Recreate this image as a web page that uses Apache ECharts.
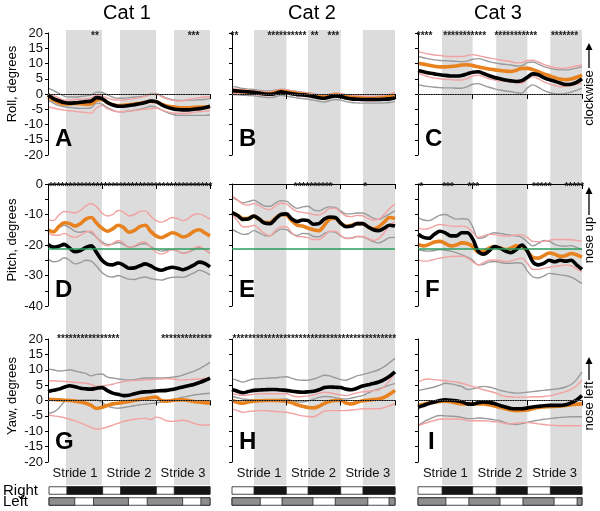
<!DOCTYPE html>
<html><head><meta charset="utf-8">
<script src="https://cdn.jsdelivr.net/npm/echarts@6/dist/echarts.min.js"></script>
<style>html,body{margin:0;padding:0;background:#fff}#c{width:600px;height:511px}</style>
</head><body><div id="c"></div>
<script>
// ---------- time axis (strides) ----------
const T = [0,0.1,0.2,0.3,0.4,0.5,0.6,0.7,0.8,0.9,1.0,1.1,1.2,1.3,1.4,1.5,1.6,1.7,1.8,1.9,2.0,2.1,2.2,2.3,2.4,2.5,2.6,2.7,2.8,2.9,3.0];
const strideLabels = ['Stride 1','Stride 2','Stride 3'];
const catTitles = ['Cat 1','Cat 2','Cat 3'];
const rowNames = ['Roll, degrees','Pitch, degrees','Yaw, degrees'];
const rowNotes = ['clockwise','nose up','nose left'];
const rowRanges = [[-20,20],[-40,0],[-20,20]];
const pitchRef = -21.2;
const zeroRef = 0;
const starLevel = [20, 0, 21];
const gaitRows = ['Left','Right'];

// stance phases (grey shading = right stance), left stance
const stanceRight1 = [[0.333,1],[1.333,2],[2.333,3]];
const stanceRight2 = [[0.405,1],[1.40,2],[2.41,3]];
const stanceRight3 = [[0.44,1],[1.43,2],[2.42,3]];
const stanceLeft1 = [[0,0.48],[0.83,1.48],[1.83,2.49],[2.83,3]];
const stanceLeft2 = [[0,0.52],[0.92,1.49],[1.90,2.50],[2.89,3]];
const stanceLeft3 = [[0,0.51],[0.93,1.50],[1.92,2.49],[2.91,3]];

// ---------- Panel A (roll, cat 1) ----------
const A_black  = [-0.3,-1.5,-2.2,-2.8,-3.0,-2.9,-2.7,-2.5,-2.3,-1.2,-1.5,-2.8,-3.6,-4.0,-4.0,-3.8,-3.5,-3.2,-2.8,-2.3,-2.5,-3.5,-4.3,-4.8,-5.1,-5.2,-5.2,-5.0,-4.8,-4.5,-4.0];
const A_orange = [-1.0,-2.0,-2.8,-3.3,-3.3,-3.1,-3.2,-3.4,-3.3,-2.0,-1.8,-2.8,-3.5,-3.8,-3.7,-3.5,-3.3,-3.0,-2.7,-2.4,-2.5,-3.3,-3.9,-4.2,-4.4,-4.5,-4.5,-4.4,-4.3,-4.3,-4.2];
const A_greyHi = [1.9,1.2,0.2,-0.7,-1.0,-1.0,-0.8,-0.6,-0.3,0.6,0.5,-0.3,-1.0,-1.4,-1.4,-1.2,-1.0,-0.9,-0.6,0.0,0.2,-0.6,-1.4,-1.9,-2.1,-2.1,-2.0,-2.0,-1.9,-1.8,-1.5];
const A_greyLo = [-2.0,-3.0,-3.8,-4.2,-4.4,-4.6,-4.7,-4.7,-4.5,-3.0,-3.3,-4.5,-5.3,-5.8,-5.8,-5.6,-5.3,-5.0,-4.6,-4.0,-4.3,-5.2,-6.0,-6.6,-7.0,-7.0,-7.0,-7.0,-7.0,-7.0,-6.8];
const A_pinkHi = [0.2,-0.5,-1.3,-2.0,-2.0,-1.8,-1.7,-1.6,-1.4,-0.5,-0.7,-1.3,-1.8,-2.0,-2.0,-1.7,-1.5,-1.2,-0.8,-0.2,0.0,-0.9,-1.6,-2.0,-2.3,-2.2,-1.8,-1.5,-1.2,-1.0,-0.9];
const A_pinkLo = [-4.2,-4.6,-5.0,-5.3,-5.5,-5.7,-5.9,-6.1,-6.3,-4.5,-3.8,-4.8,-5.5,-5.8,-5.8,-5.6,-5.4,-5.2,-5.0,-4.8,-4.6,-5.2,-5.8,-6.2,-6.4,-6.4,-6.3,-6.0,-5.8,-5.6,-5.5];
const A_stars  = [[0.82,0.92],[2.63,2.76]];

// ---------- Panel B (roll, cat 2) ----------
const B_black  = [1.1,1.0,0.8,0.7,0.6,0.3,0.0,-0.1,0.2,0.7,0.4,0.1,-0.2,-0.3,-0.5,-0.8,-1.2,-1.4,-1.0,-0.6,-0.8,-1.3,-1.6,-1.7,-1.8,-1.8,-1.8,-1.8,-1.7,-1.6,-1.3];
const B_orange = [1.0,0.9,0.8,0.7,0.5,0.3,0.1,0.1,0.5,0.9,0.7,0.4,0.1,-0.1,-0.3,-0.6,-0.9,-1.0,-0.6,-0.3,-0.5,-0.9,-1.2,-1.3,-1.4,-1.5,-1.5,-1.4,-1.2,-0.9,-0.5];
const B_greyHi = [2.5,2.2,1.8,1.6,1.5,1.2,1.0,1.0,1.3,1.6,1.4,1.1,0.8,0.6,0.4,0.1,-0.3,-0.5,-0.1,0.3,0.1,-0.3,-0.6,-0.7,-0.8,-0.8,-0.8,-0.8,-0.6,-0.3,0.5];
const B_greyLo = [-0.2,-0.3,-0.4,-0.5,-0.6,-0.8,-1.1,-1.2,-0.9,-0.4,-0.7,-1.0,-1.3,-1.5,-1.7,-2.0,-2.4,-2.6,-2.2,-1.8,-2.0,-2.5,-2.8,-2.9,-3.0,-3.0,-3.0,-3.0,-2.9,-2.8,-2.5];
const B_pinkHi = [1.8,1.6,1.4,1.3,1.1,0.9,0.7,0.7,1.1,1.5,1.3,1.0,0.7,0.5,0.3,0.0,-0.3,-0.4,0.0,0.3,0.2,-0.2,-0.5,-0.6,-0.7,-0.8,-0.8,-0.7,-0.5,-0.1,0.5];
const B_pinkLo = [0.2,0.2,0.2,0.1,-0.1,-0.3,-0.5,-0.5,-0.1,0.3,0.1,-0.2,-0.5,-0.7,-0.9,-1.2,-1.5,-1.6,-1.2,-0.9,-1.2,-1.6,-1.9,-2.0,-2.1,-2.2,-2.2,-2.1,-1.9,-1.7,-1.5];
const B_stars  = [[0.0,0.09],[0.70,1.32],[1.47,1.57],[1.78,1.95]];

// ---------- Panel C (roll, cat 3) ----------
const C_black  = [7.7,7.3,6.9,6.6,6.3,6.1,5.9,5.9,6.1,6.6,7.1,7.3,6.7,6.0,5.4,5.0,4.6,4.3,4.1,4.4,5.5,6.6,6.3,5.4,4.7,4.2,3.6,3.1,3.2,3.8,5.0];
const C_orange = [10.1,9.8,9.4,9.1,8.9,8.9,9.0,9.2,9.5,9.6,9.3,8.9,8.5,8.2,7.9,7.7,7.5,7.4,7.8,8.4,8.4,8.0,7.3,6.6,6.0,5.4,4.9,4.7,4.9,5.5,6.2];
const C_greyHi = [12.3,11.9,11.5,11.2,11.0,10.9,10.8,10.7,10.6,10.8,11.4,11.6,11.2,10.6,10.2,9.9,9.7,9.5,9.2,9.3,10.3,10.5,9.8,9.0,8.5,8.1,7.9,7.9,8.1,8.5,9.0];
const C_greyLo = [3.0,2.7,2.4,2.2,2.1,2.0,2.0,1.9,1.9,2.4,3.2,3.4,2.8,2.2,1.7,1.3,1.0,0.8,0.4,0.3,2.0,3.0,2.2,1.2,0.5,0.1,0.0,0.2,0.6,1.2,1.9];
const C_pinkHi = [14.0,13.5,13.1,12.8,12.6,12.4,12.3,12.3,12.3,12.6,12.9,12.6,12.2,11.8,11.5,11.2,10.9,10.6,10.2,10.3,11.0,11.1,10.5,9.7,9.1,8.7,8.4,8.5,8.8,9.2,9.5];
const C_pinkLo = [6.8,6.2,5.6,5.2,5.0,4.8,4.7,4.6,4.6,5.1,5.9,6.2,5.6,5.0,4.6,4.3,4.1,4.0,3.7,3.6,4.9,5.7,5.0,4.0,3.3,2.8,2.4,2.5,2.8,3.2,3.5];
const C_stars  = [[0,0.24],[0.49,1.22],[1.44,2.14],[2.45,2.91]];

// ---------- Panel D (pitch, cat 1) ----------
const D_black  = [-19.8,-20.7,-20.4,-19.8,-21.0,-22.2,-21.8,-20.8,-20.3,-22.5,-25.0,-26.3,-26.5,-25.9,-26.6,-27.6,-27.5,-26.8,-26.2,-26.8,-27.8,-28.3,-27.7,-27.3,-27.6,-28.1,-27.5,-26.6,-25.6,-26.0,-27.2];
const D_orange = [-15.0,-15.7,-14.0,-12.7,-13.0,-13.8,-13.0,-11.5,-11.0,-12.8,-14.5,-15.5,-14.7,-13.5,-14.3,-15.8,-15.2,-14.0,-13.5,-15.5,-17.0,-17.6,-16.8,-16.0,-16.5,-17.4,-16.8,-15.5,-15.0,-16.0,-17.0];
const D_greyHi = [-15.0,-15.5,-14.3,-13.5,-14.3,-15.5,-15.8,-15.5,-16.0,-17.5,-19.0,-19.8,-19.7,-19.2,-19.8,-20.7,-20.5,-19.8,-19.5,-20.5,-21.5,-22.0,-21.7,-21.5,-22.0,-22.7,-22.3,-21.5,-20.8,-21.5,-22.7];
const D_greyLo = [-24.4,-25.5,-25.2,-24.2,-25.0,-26.2,-25.8,-25.0,-25.3,-27.0,-29.0,-30.2,-30.5,-30.0,-30.6,-31.2,-31.3,-30.8,-30.5,-31.0,-31.3,-31.5,-31.0,-30.6,-30.5,-30.6,-30.0,-29.2,-28.3,-28.8,-29.8];
const D_pinkHi = [-11.7,-12.0,-10.2,-9.0,-9.2,-9.5,-8.7,-7.2,-6.4,-7.5,-9.5,-10.5,-10.0,-8.7,-9.2,-10.5,-10.0,-9.0,-8.8,-10.5,-12.0,-12.5,-11.8,-11.0,-11.3,-12.0,-11.3,-10.0,-9.8,-10.5,-11.5];
const D_pinkLo = [-15.8,-16.8,-16.8,-16.2,-17.0,-17.5,-16.8,-15.8,-15.5,-17.5,-19.5,-20.3,-19.5,-18.5,-19.3,-20.7,-20.3,-19.2,-19.0,-20.8,-22.3,-23.0,-22.3,-21.5,-22.0,-22.8,-22.3,-21.0,-20.5,-21.5,-22.5];
const D_stars  = [[0.06,3.0]];

// ---------- Panel E (pitch, cat 2) ----------
const E_black  = [-9.4,-10.3,-11.6,-11.5,-10.5,-11.5,-12.8,-13.0,-11.5,-10.0,-9.8,-11.5,-12.3,-11.8,-12.0,-13.2,-13.0,-11.5,-10.8,-11.0,-12.8,-14.0,-13.8,-13.0,-13.0,-14.0,-15.0,-15.3,-14.5,-13.5,-13.8];
const E_orange = [-9.5,-10.2,-11.3,-11.2,-10.6,-11.6,-12.6,-12.6,-11.2,-10.0,-10.2,-12.0,-13.5,-13.8,-14.5,-15.0,-15.3,-13.5,-11.5,-11.2,-12.8,-13.8,-13.5,-13.0,-13.0,-14.0,-14.8,-14.0,-12.5,-11.0,-11.3];
const E_greyHi = [-4.4,-5.3,-6.2,-5.8,-5.3,-6.2,-7.2,-7.3,-6.2,-5.5,-5.6,-7.0,-8.0,-7.5,-7.3,-8.5,-8.8,-8.0,-7.5,-7.7,-8.8,-9.8,-9.8,-9.5,-9.5,-10.2,-11.2,-11.6,-10.8,-9.8,-8.8];
const E_greyLo = [-14.9,-15.8,-16.5,-16.3,-15.3,-16.0,-16.9,-17.0,-15.8,-14.8,-14.9,-16.3,-16.9,-16.2,-16.3,-17.2,-17.3,-16.2,-15.6,-15.8,-17.0,-17.8,-17.7,-17.2,-17.3,-18.0,-18.9,-19.3,-18.6,-17.6,-17.5];
const E_pinkHi = [-3.9,-5.2,-6.6,-6.9,-6.4,-7.1,-8.1,-8.4,-7.1,-6.3,-6.5,-8.0,-9.0,-9.3,-9.6,-10.0,-10.2,-9.3,-8.0,-7.9,-9.3,-10.5,-10.7,-10.3,-10.4,-11.2,-11.8,-11.5,-10.0,-8.0,-6.6];
const E_pinkLo = [-10.0,-12.0,-14.0,-14.0,-13.5,-14.8,-16.3,-17.0,-15.2,-14.0,-14.0,-16.0,-17.2,-17.3,-17.6,-18.2,-18.2,-17.0,-15.5,-15.5,-16.8,-17.9,-17.8,-17.2,-17.2,-17.8,-18.5,-17.9,-16.0,-13.5,-12.5];
const E_stars  = [[1.18,1.81],[2.45,2.45]];

// ---------- Panel F (pitch, cat 3) ----------
const F_black  = [-16.5,-17.5,-17.8,-16.5,-15.5,-16.0,-17.0,-17.0,-16.0,-16.0,-18.0,-22.0,-23.0,-22.0,-20.5,-21.0,-22.0,-22.5,-21.5,-20.0,-22.0,-25.5,-26.5,-26.0,-25.0,-25.5,-25.0,-25.3,-25.0,-26.5,-28.0];
const F_orange = [-19.8,-20.3,-19.8,-19.0,-18.8,-19.5,-20.3,-20.0,-19.3,-19.5,-20.5,-22.3,-22.0,-21.0,-20.5,-21.0,-21.5,-21.0,-20.3,-20.5,-22.0,-24.0,-24.3,-23.5,-22.6,-23.0,-23.7,-23.5,-22.8,-23.2,-24.0];
const F_greyHi = [-11.0,-11.8,-12.0,-11.2,-10.2,-10.0,-10.8,-11.5,-11.4,-11.5,-14.0,-17.8,-17.6,-16.5,-16.0,-16.2,-16.5,-16.8,-17.0,-17.5,-19.0,-20.3,-19.5,-18.5,-18.8,-19.8,-20.3,-20.4,-20.2,-20.8,-21.5];
const F_greyLo = [-21.5,-21.9,-22.0,-21.8,-21.5,-21.7,-22.0,-22.5,-23.2,-24.0,-25.0,-26.5,-26.3,-25.6,-25.4,-25.7,-26.0,-26.0,-25.8,-26.0,-28.5,-30.4,-30.8,-30.2,-29.3,-29.5,-29.8,-30.0,-30.5,-31.5,-32.6];
const F_pinkHi = [-14.4,-14.8,-14.6,-13.8,-13.3,-13.5,-13.8,-13.9,-13.8,-14.2,-15.8,-17.5,-17.0,-16.5,-16.6,-16.9,-17.1,-17.0,-16.7,-16.6,-17.5,-18.8,-18.9,-18.8,-18.5,-18.2,-18.2,-18.2,-18.3,-18.5,-18.8];
const F_pinkLo = [-24.9,-25.3,-25.2,-24.7,-24.3,-24.0,-23.8,-23.7,-23.7,-24.2,-25.5,-26.5,-25.8,-25.0,-24.9,-25.1,-25.4,-25.2,-24.7,-24.3,-26.0,-28.0,-28.0,-27.6,-27.3,-27.0,-26.8,-26.5,-26.8,-27.8,-28.7];
const F_stars  = [[0.06,0.06],[0.49,0.61],[0.95,1.07],[2.11,2.42],[2.72,3.0]];

// ---------- Panel G (yaw, cat 1) ----------
const G_black  = [2.9,3.3,3.7,4.3,4.8,4.5,4.0,3.8,3.7,4.0,4.2,3.2,2.4,2.0,1.6,1.7,2.2,2.6,2.8,2.9,3.1,3.2,3.3,3.6,4.0,4.4,4.8,5.2,5.8,6.5,7.3];
const G_orange = [0.4,0.3,0.2,0.1,0.0,-0.2,-0.5,-0.9,-1.6,-2.6,-2.2,-1.6,-1.1,-0.9,-0.6,-0.3,0.0,0.3,0.6,0.9,1.1,0.0,-0.2,0.0,0.2,0.2,0.0,-0.3,-0.5,-0.7,-0.9];
const G_greyHi = [10.2,10.0,9.6,9.7,10.0,9.6,9.2,8.8,8.0,8.5,8.6,7.6,7.3,7.0,6.8,6.7,6.8,7.1,7.3,7.3,7.3,7.3,7.4,7.6,7.8,8.3,8.9,9.5,10.3,11.3,12.4];
const G_greyLo = [-4.1,-3.8,-2.5,-0.5,-0.1,0.0,0.1,0.2,0.2,0.2,-0.6,-1.8,-2.3,-2.5,-2.3,-2.0,-1.7,-1.4,-1.2,-1.0,-0.8,-0.5,-0.2,0.3,0.7,1.1,1.4,1.8,2.0,2.2,2.4];
const G_pinkHi = [6.4,6.4,6.3,6.2,6.1,5.9,5.8,5.6,5.2,4.6,4.7,5.0,5.3,5.8,6.2,6.4,6.5,6.6,6.7,6.8,6.9,7.0,7.1,7.0,6.8,6.7,6.8,6.9,7.0,7.2,7.3];
const G_pinkLo = [-4.7,-5.0,-5.2,-5.6,-6.1,-6.6,-7.3,-8.0,-8.8,-9.3,-9.1,-8.6,-8.0,-7.4,-6.8,-6.4,-6.1,-5.9,-5.8,-6.2,-5.4,-5.8,-6.6,-6.8,-6.6,-6.4,-6.8,-7.4,-7.9,-8.0,-7.9];
const G_stars  = [[0.19,1.30],[2.13,3.0]];

// ---------- Panel H (yaw, cat 2) ----------
const H_black  = [3.6,3.0,2.5,2.9,3.3,3.4,3.5,3.6,3.6,3.4,3.3,3.0,2.8,2.7,2.8,3.0,3.5,4.2,4.4,4.3,4.2,3.7,3.5,4.0,4.7,5.1,5.5,6.0,6.8,7.9,9.3];
const H_orange = [0.0,-0.6,-0.9,-0.5,-0.2,-0.1,0.0,0.0,0.0,-0.1,-0.2,-0.7,-1.4,-1.9,-2.3,-2.4,-1.9,-0.9,-0.3,0.0,0.0,-0.8,-1.1,-0.6,-0.1,0.1,0.3,0.5,1.0,2.0,3.3];
const H_greyHi = [7.1,6.5,6.0,6.5,7.0,7.1,7.2,7.3,7.4,7.6,7.7,7.2,6.7,6.6,6.6,7.0,7.6,8.2,8.0,7.4,6.8,6.6,7.3,8.0,8.4,8.9,9.4,10.0,11.0,12.3,13.7];
const H_greyLo = [1.3,0.9,0.5,0.3,0.2,0.0,0.0,0.2,0.3,0.4,0.5,0.0,-0.4,-0.5,-0.2,0.4,1.0,1.3,1.2,0.9,0.6,0.5,0.8,1.2,1.6,2.4,3.2,3.8,4.4,5.0,5.5];
const H_pinkHi = [2.2,1.9,1.6,1.8,2.0,2.2,2.2,2.2,2.2,2.2,2.2,1.6,1.2,1.3,1.5,1.8,2.3,2.7,2.5,2.1,1.8,1.6,2.0,2.5,2.8,3.0,3.2,3.4,4.5,6.5,8.8];
const H_pinkLo = [-2.7,-3.3,-3.8,-3.6,-3.4,-3.3,-3.3,-3.4,-3.6,-3.7,-3.8,-4.2,-4.6,-5.0,-5.2,-5.3,-4.5,-3.4,-3.3,-3.3,-3.3,-3.3,-3.1,-2.9,-2.7,-2.7,-2.7,-2.7,-2.3,-1.7,-1.1];
const H_stars  = [[0.03,3.0]];

// ---------- Panel I (yaw, cat 3) ----------
const I_black  = [-2.2,-1.6,-1.0,-0.5,0.0,0.2,0.1,-0.1,-0.4,-1.1,-1.2,-0.7,-0.5,-0.6,-1.0,-1.6,-2.1,-2.6,-2.7,-2.7,-2.4,-2.1,-1.9,-1.7,-1.6,-1.6,-1.6,-1.4,-0.8,0.2,1.6];
const I_orange = [-1.6,-1.2,-0.8,-0.5,-0.3,-0.2,-0.4,-0.8,-1.1,-1.1,-1.1,-1.1,-1.1,-1.4,-1.8,-2.2,-2.7,-3.1,-3.3,-3.2,-3.1,-2.7,-2.3,-2.1,-2.0,-1.9,-1.8,-1.6,-1.4,-1.2,-1.1];
const I_greyHi = [3.3,3.6,4.0,4.4,5.0,5.6,5.4,5.0,4.6,3.6,3.8,4.3,4.6,4.4,3.9,3.3,2.9,2.6,2.4,2.5,2.7,2.9,3.1,3.3,3.5,3.7,3.9,4.4,5.2,6.8,9.3];
const I_greyLo = [-8.2,-7.0,-6.1,-5.3,-4.9,-5.0,-5.1,-5.2,-5.5,-5.9,-5.9,-5.7,-5.8,-6.0,-6.3,-6.6,-7.2,-7.7,-7.8,-7.5,-7.1,-6.7,-6.4,-6.1,-5.9,-5.7,-5.5,-5.4,-5.3,-5.3,-5.3];
const I_pinkHi = [6.0,6.8,7.0,6.8,6.6,6.4,6.2,6.0,5.6,5.1,4.6,4.0,3.5,3.0,2.6,1.8,1.3,1.2,1.1,1.1,1.1,1.2,1.2,1.3,1.5,1.9,2.4,2.9,3.6,4.8,6.6];
const I_pinkLo = [-8.2,-7.6,-7.0,-6.5,-6.1,-6.0,-6.0,-6.0,-6.1,-6.5,-6.6,-6.6,-6.6,-6.7,-6.9,-7.1,-7.5,-7.6,-7.4,-7.2,-7.1,-7.3,-7.6,-7.8,-8.0,-8.1,-8.2,-8.2,-8.2,-8.2,-8.2];
const I_stars  = [];

// ---------- assemble ----------
const panels = [
  {letter:'A',row:0,col:0,black:A_black,orange:A_orange,greyHi:A_greyHi,greyLo:A_greyLo,pinkHi:A_pinkHi,pinkLo:A_pinkLo,stars:A_stars},
  {letter:'B',row:0,col:1,black:B_black,orange:B_orange,greyHi:B_greyHi,greyLo:B_greyLo,pinkHi:B_pinkHi,pinkLo:B_pinkLo,stars:B_stars},
  {letter:'C',row:0,col:2,black:C_black,orange:C_orange,greyHi:C_greyHi,greyLo:C_greyLo,pinkHi:C_pinkHi,pinkLo:C_pinkLo,stars:C_stars},
  {letter:'D',row:1,col:0,black:D_black,orange:D_orange,greyHi:D_greyHi,greyLo:D_greyLo,pinkHi:D_pinkHi,pinkLo:D_pinkLo,stars:D_stars},
  {letter:'E',row:1,col:1,black:E_black,orange:E_orange,greyHi:E_greyHi,greyLo:E_greyLo,pinkHi:E_pinkHi,pinkLo:E_pinkLo,stars:E_stars},
  {letter:'F',row:1,col:2,black:F_black,orange:F_orange,greyHi:F_greyHi,greyLo:F_greyLo,pinkHi:F_pinkHi,pinkLo:F_pinkLo,stars:F_stars},
  {letter:'G',row:2,col:0,black:G_black,orange:G_orange,greyHi:G_greyHi,greyLo:G_greyLo,pinkHi:G_pinkHi,pinkLo:G_pinkLo,stars:G_stars},
  {letter:'H',row:2,col:1,black:H_black,orange:H_orange,greyHi:H_greyHi,greyLo:H_greyLo,pinkHi:H_pinkHi,pinkLo:H_pinkLo,stars:H_stars},
  {letter:'I',row:2,col:2,black:I_black,orange:I_orange,greyHi:I_greyHi,greyLo:I_greyLo,pinkHi:I_pinkHi,pinkLo:I_pinkLo,stars:I_stars}
];
const stanceRight = [stanceRight1, stanceRight2, stanceRight3];
const stanceLeft = [stanceLeft1, stanceLeft2, stanceLeft3];

const FONT = "'Liberation Sans', Arial, Helvetica, sans-serif";
const colLeft = [48, 232, 418], colWidth = [162, 163, 164];
const rowTop = [33, 184, 339], rowH = [122, 122, 123];
const COL = {black:'#000000', orange:'#e8821e', grey:'#9a9a9a', pink:'#f2a2a2', band:'#dcdcdc', green:'#2a9d5c'};

const grid = [], xAxis = [], yAxis = [], series = [];

// shading bands (full height per column)
for (let c = 0; c < 3; c++) {
  const gi = grid.length;
  grid.push({left: colLeft[c], width: colWidth[c], top: 30, height: 455});
  xAxis.push({type:'value', gridIndex:gi, min:0, max:3, show:false});
  yAxis.push({type:'value', gridIndex:gi, min:0, max:1, show:false});
  series.push({
    type:'custom', xAxisIndex:xAxis.length-1, yAxisIndex:yAxis.length-1, z:0, silent:true, animation:false,
    data: stanceRight[c], encode:{x:[0,1]},
    renderItem: (params, api) => {
      const p0 = api.coord([api.value(0), 1]);
      const p1 = api.coord([api.value(1), 0]);
      return {type:'rect', shape:{x:p0[0], y:p0[1], width:p1[0]-p0[0], height:p1[1]-p0[1]}, style:{fill:COL.band}};
    }
  });
}

function lineSeries(arr, color, width, xi, yi, z, extra) {
  return Object.assign({
    type:'line', xAxisIndex:xi, yAxisIndex:yi, data:T.map((t,i)=>[t, arr[i]]),
    showSymbol:false, symbol:'none', smooth:0.35, silent:true, z:z, animation:false,
    lineStyle:{color:color, width:width}
  }, extra || {});
}

panels.forEach(p => {
  const gi = grid.length;
  grid.push({left: colLeft[p.col], width: colWidth[p.col], top: rowTop[p.row], height: rowH[p.row]});
  xAxis.push({
    type:'category', gridIndex:gi, position:'bottom', data:strideLabels, boundaryGap:true, z:3,
    axisLine:{show:true, lineStyle:{color:'#000', width:1}},
    axisTick:{show:true, length:5, interval:0, lineStyle:{color:'#000'}},
    axisLabel:{show:p.row === 2, interval:0, fontSize:13, color:'#111', margin:5, fontFamily:FONT},
    splitLine:{show:false}
  });
  const xi = xAxis.length;
  xAxis.push({type:'value', gridIndex:gi, position:'bottom', min:0, max:3, show:false});
  const yi = yAxis.length;
  const rng = rowRanges[p.row];
  const isPitch = p.row === 1;
  yAxis.push({
    type:'value', gridIndex:gi, min:rng[0], max:rng[1], interval:5, z:3,
    axisLine:{show:true, lineStyle:{color:'#000', width:1}},
    axisTick:{show:true, length:3, lineStyle:{color:'#000'}},
    splitLine:{show:false},
    axisLabel:{show:p.col === 0, fontSize:13, color:'#111', margin:5, fontFamily:FONT,
      formatter: v => (isPitch && v % 10 !== 0) ? '' : String(v)}
  });
  const ref = isPitch
    ? {silent:true, symbol:['none','none'], label:{show:false}, animation:false,
       lineStyle:{color:COL.green, type:'solid', width:1.6}, data:[{yAxis:pitchRef}]}
    : {silent:true, symbol:['none','none'], label:{show:false}, animation:false,
       lineStyle:{color:'#666', type:'dotted', width:1.2}, data:[{yAxis:zeroRef}]};
  series.push(lineSeries(p.greyHi, COL.grey, 1.4, xi, yi, 2, {markLine: ref}));
  series.push(lineSeries(p.greyLo, COL.grey, 1.4, xi, yi, 2));
  series.push(lineSeries(p.pinkHi, COL.pink, 1.4, xi, yi, 2));
  series.push(lineSeries(p.pinkLo, COL.pink, 1.4, xi, yi, 2));
  series.push(lineSeries(p.orange, COL.orange, 3.6, xi, yi, 2));
  series.push(lineSeries(p.black, COL.black, 3.6, xi, yi, 2));
  // significance asterisks
  const lvl = starLevel[p.row];
  series.push({
    type:'custom', xAxisIndex:xi, yAxisIndex:yi, z:4, silent:true, clip:false, animation:false,
    data: p.stars.map(s => [s[0], s[1], lvl]), encode:{x:[0,1], y:2},
    renderItem: (params, api) => {
      const p0 = api.coord([api.value(0), api.value(2)]);
      const p1 = api.coord([api.value(1), api.value(2)]);
      const n = Math.max(1, Math.round((p1[0]-p0[0]) / 3.9) + 1);
      return {type:'text', x:(p0[0]+p1[0])/2, y:p0[1]+3,
        style:{text:'*'.repeat(n), font:'bold 10px ' + FONT, fill:'#1a1a1a',
               align:'center', verticalAlign:'middle', textAlign:'center', textVerticalAlign:'middle'}};
    }
  });
});

// gait bars
for (let c = 0; c < 3; c++) {
  const gi = grid.length;
  grid.push({left: colLeft[c], width: colWidth[c], top: 485, height: 22});
  xAxis.push({type:'value', gridIndex:gi, min:0, max:3, show:false});
  yAxis.push({type:'category', gridIndex:gi, data:gaitRows, z:3,
    axisLine:{show:false}, axisTick:{show:false}, splitLine:{show:false},
    axisLabel:{show:c === 0, interval:0, hideOverlap:false, align:'left', margin:46, fontSize:15, color:'#000', fontFamily:FONT}});
  const data = [[0,3,1,0]].concat(stanceRight[c].map(s => [s[0], s[1], 1, 1]))
    .concat([[0,3,0,0]]).concat(stanceLeft[c].map(s => [s[0], s[1], 0, 2]));
  series.push({
    type:'custom', xAxisIndex:xAxis.length-1, yAxisIndex:yAxis.length-1, z:4, silent:true, animation:false,
    data:data, encode:{x:[0,1], y:2},
    renderItem: (params, api) => {
      const r = api.value(2), k = api.value(3);
      const p0 = api.coord([api.value(0), r]);
      const p1 = api.coord([api.value(1), r]);
      const h = 7.5;
      return {type:'rect', shape:{x:p0[0], y:p0[1]-h/2, width:p1[0]-p0[0], height:h},
        style:{fill: k === 0 ? '#ffffff' : (k === 1 ? '#151515' : '#8e8e8e'), stroke:'#222', lineWidth:0.8}};
    }
  });
}

// texts
const graphic = [];
const titleX = [127, 312, 498];
catTitles.forEach((t, c) => graphic.push({type:'text', x:titleX[c], y:13, z:10,
  style:{text:t, font:'20px ' + FONT, fill:'#000', align:'center', verticalAlign:'middle', textAlign:'center', textVerticalAlign:'middle'}}));
const nameY = [84, 240, 396];
rowNames.forEach((t, r) => graphic.push({type:'text', x:12, y:nameY[r], rotation:Math.PI/2, z:10,
  style:{text:t, font:'13px ' + FONT, fill:'#000', align:'center', verticalAlign:'middle', textAlign:'center', textVerticalAlign:'middle'}}));
const noteY = [98, 240, 406];
const arrowTip = [43, 187, 357], arrowTail = [68, 215, 380];
rowNotes.forEach((t, r) => {
  graphic.push({type:'text', x:589, y:noteY[r], rotation:Math.PI/2, z:10,
    style:{text:t, font:'13px ' + FONT, fill:'#000', align:'center', verticalAlign:'middle', textAlign:'center', textVerticalAlign:'middle'}});
  graphic.push({type:'line', z:10, shape:{x1:589, y1:arrowTail[r], x2:589, y2:arrowTip[r]+5}, style:{stroke:'#000', lineWidth:1.3}});
  graphic.push({type:'polygon', z:10, shape:{points:[[589, arrowTip[r]], [585.5, arrowTip[r]+7], [592.5, arrowTip[r]+7]]}, style:{fill:'#000'}});
});
const letterX = [55, 239, 425], letterY = [139, 290, 442];
panels.forEach(p => graphic.push({type:'text', x:letterX[p.col] + (p.letter === 'I' ? 3 : 0), y:letterY[p.row], z:10,
  style:{text:p.letter, font:'bold 24px ' + FONT, fill:'#000', align:'left', verticalAlign:'middle', textAlign:'left', textVerticalAlign:'middle'}}));

const chart = echarts.init(document.getElementById('c'), null, {renderer:'canvas'});
chart.setOption({animation:false, backgroundColor:'#ffffff', grid, xAxis, yAxis, series, graphic});
</script>
</body></html>
